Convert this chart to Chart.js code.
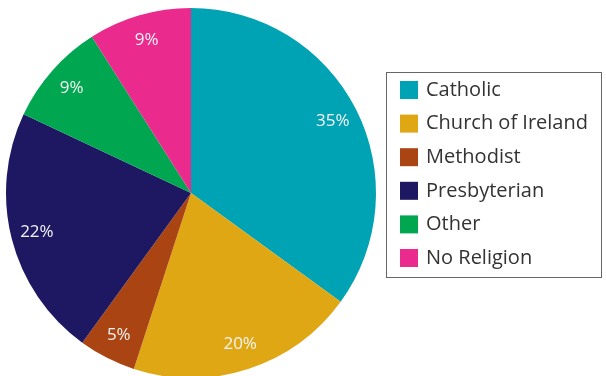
<!DOCTYPE html>
<html>
<head>
<meta charset="utf-8">
<script src="https://cdn.jsdelivr.net/npm/chart.js@4"></script>
<style>
  body { margin: 0; background: #fff; }
  #wrap { width: 606px; height: 376px; overflow: hidden; position: relative; }
  #pieChart { display: block; }
</style>
</head>
<body>
<div id="wrap"><canvas id="pieChart" width="606" height="380"></canvas></div>
<script>
var religions = ['Catholic', 'Church of Ireland', 'Methodist', 'Presbyterian', 'Other', 'No Religion'];
var shares = [35, 20, 5, 22, 9, 9];
var colours = ['#00a3b4', '#e0a714', '#aa4412', '#1e1862', '#00a750', '#eb2a8e'];

// percentage text inside each slice
var sliceLabels = {
    id: 'sliceLabels',
    afterDatasetsDraw: function (chart) {
        var c = chart.ctx;
        var meta = chart.getDatasetMeta(0);
        c.save();
        c.fillStyle = '#f4f4f4';
        c.font = '17px "Open Sans"';
        c.textAlign = 'center';
        c.textBaseline = 'middle';
        meta.data.forEach(function (arc, i) {
            var p = arc.getProps(['x', 'y', 'startAngle', 'endAngle', 'outerRadius'], true);
            var mid = (p.startAngle + p.endAngle) / 2;
            var r = p.outerRadius * 0.86;
            c.fillText(shares[i] + '%', p.x + Math.cos(mid) * r, p.y + Math.sin(mid) * r);
        });
        c.restore();
    }
};

// boxed legend to the right of the pie
var boxLegend = {
    id: 'boxLegend',
    afterDraw: function (chart) {
        var c = chart.ctx;
        c.save();
        c.strokeStyle = '#666';
        c.lineWidth = 1;
        c.strokeRect(386.5, 72.5, 215, 205);
        c.font = '20px "Open Sans"';
        c.textBaseline = 'middle';
        religions.forEach(function (name, i) {
            var y = 81 + i * 33.6;
            c.fillStyle = colours[i];
            c.fillRect(400, y, 18, 18);
            c.fillStyle = '#333';
            c.fillText(name, 426, y + 9);
        });
        c.restore();
    }
};

var pieChart = new Chart(document.getElementById('pieChart').getContext('2d'), {
    type: 'pie',
    data: {
        labels: religions,
        datasets: [{
            data: shares,
            backgroundColor: colours,
            borderWidth: 0
        }]
    },
    options: {
        responsive: false,
        animation: false,
        layout: { padding: { left: 6, right: 230, top: 8, bottom: 2 } },
        plugins: {
            legend: { display: false },
            tooltip: { enabled: false }
        }
    },
    plugins: [sliceLabels, boxLegend]
});
</script>
</body>
</html>
